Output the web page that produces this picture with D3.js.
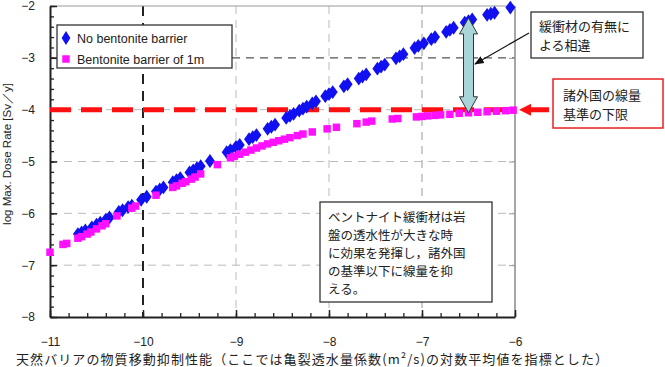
<!DOCTYPE html>
<html>
  <head>
    <meta charset="utf-8" />
    <title>Max dose rate vs natural barrier</title>
    <script src="https://cdn.jsdelivr.net/npm/d3@7"></script>
    <style>
      body { margin: 0; background: #fff; }
      text { font-family: "Liberation Sans", Arial, sans-serif; }
      .jp { font-family: "Noto Sans CJK JP", sans-serif; }
    </style>
  </head>
  <body>
    <svg id="svg" width="665" height="367" xmlns="http://www.w3.org/2000/svg"></svg>
    <script>
      // Data (log10 values)
      let blueX = [-10.70, -10.66, -10.62, -10.55, -10.50, -10.46, -10.40, -10.36, -10.26, -10.22,
        -10.16, -10.12, -10.02, -9.96, -9.86, -9.82, -9.78, -9.68, -9.64, -9.60,
        -9.50, -9.46, -9.42, -9.38, -9.28, -9.10, -9.06, -9.00, -8.96, -8.86,
        -8.82, -8.78, -8.66, -8.62, -8.58, -8.46, -8.42, -8.38, -8.32, -8.28,
        -8.24, -8.18, -8.14, -8.04, -8.00, -7.96, -7.84, -7.80, -7.68, -7.64,
        -7.60, -7.48, -7.44, -7.40, -7.28, -7.24, -7.20, -7.08, -7.04, -6.98,
        -6.90, -6.86, -6.74, -6.70, -6.66, -6.54, -6.50, -6.46, -6.30, -6.26,
        -6.22, -6.05];
      let blueY = [-6.40, -6.37, -6.33, -6.27, -6.22, -6.18, -6.12, -6.08, -5.97, -5.94,
        -5.88, -5.85, -5.74, -5.68, -5.58, -5.54, -5.50, -5.40, -5.36, -5.32,
        -5.21, -5.17, -5.13, -5.09, -4.99, -4.82, -4.78, -4.72, -4.68, -4.57,
        -4.53, -4.49, -4.37, -4.33, -4.29, -4.16, -4.12, -4.08, -4.02, -3.98,
        -3.94, -3.88, -3.84, -3.74, -3.70, -3.66, -3.55, -3.51, -3.40, -3.36,
        -3.32, -3.21, -3.17, -3.13, -3.01, -2.97, -2.93, -2.81, -2.77, -2.72,
        -2.64, -2.60, -2.50, -2.46, -2.42, -2.32, -2.29, -2.26, -2.17, -2.15,
        -2.13, -2.03];

      let pinkX = [-11.00, -10.86, -10.82, -10.70, -10.66, -10.60, -10.56, -10.50, -10.44, -10.40,
        -10.28, -10.12, -10.08, -9.86, -9.68, -9.64, -9.58, -9.54, -9.48, -9.44,
        -9.38, -9.20, -9.06, -9.02, -8.96, -8.90, -8.84, -8.78, -8.72, -8.66,
        -8.60, -8.54, -8.48, -8.42, -8.34, -8.28, -8.18, -8.02, -7.92, -7.70,
        -7.60, -7.54, -7.32, -7.26, -7.06, -7.00, -6.94, -6.86, -6.80, -6.70,
        -6.60, -6.50, -6.40, -6.30, -6.20, -6.10, -6.02];
      let pinkY = [-6.75, -6.60, -6.58, -6.48, -6.45, -6.40, -6.36, -6.30, -6.24, -6.20,
        -6.05, -5.90, -5.86, -5.65, -5.50, -5.47, -5.42, -5.39, -5.34, -5.30,
        -5.24, -5.06, -4.93, -4.90, -4.86, -4.82, -4.78, -4.74, -4.70, -4.66,
        -4.63, -4.60, -4.57, -4.54, -4.50, -4.47, -4.43, -4.37, -4.34, -4.27,
        -4.24, -4.22, -4.18, -4.17, -4.14, -4.13, -4.12, -4.11, -4.10, -4.09,
        -4.07, -4.06, -4.05, -4.04, -4.03, -4.02, -4.01];

      let seriesNames = ["No bentonite barrier", "Bentonite barrier of 1m"];
      let xTicks = [-11, -10, -9, -8, -7, -6];
      let yTicks = [-8, -7, -6, -5, -4, -3, -2];
      let limitLevel = -4;

      let xLabel = "天然バリアの物質移動抑制性能（ここでは亀裂透水量係数(m²/s)の対数平均値を指標とした）";
      let yLabel = "log  Max. Dose Rate [Sv／y]";
      let noteLines = ["ベントナイト緩衝材は岩", "盤の透水性が大きな時", "に効果を発揮し，諸外国", "の基準以下に線量を抑", "える。"];
      let diffLines = ["緩衝材の有無に", "よる相違"];
      let limitLines = ["諸外国の線量", "基準の下限"];

      let svg = d3.select("svg");
      svg.append("rect").attr("width", 665).attr("height", 367).attr("fill", "#fff");

      let x = d3.scaleLinear().domain([-11, -6]).range([50, 515]);
      let y = d3.scaleLinear().domain([-8, -2]).range([317, 6]);

      // Grid lines
      let grid = svg.append("g");
      grid.selectAll(".gx").data(xTicks.slice(1, -1)).enter().append("line")
        .attr("x1", d => x(d)).attr("x2", d => x(d))
        .attr("y1", y(-2)).attr("y2", y(-8))
        .attr("stroke", d => d === -10 ? "#222" : (d === -7 ? "#999" : "#bbb"))
        .attr("stroke-width", d => d === -10 ? 2 : 1)
        .attr("stroke-dasharray", d => d === -10 ? "10,7" : "8,6");
      grid.selectAll(".gy").data(yTicks.slice(1, -1)).enter().append("line")
        .attr("x1", x(-11)).attr("x2", x(-6))
        .attr("y1", d => y(d)).attr("y2", d => y(d))
        .attr("stroke", d => d === -3 ? "#555" : "#bbb")
        .attr("stroke-width", d => d === -3 ? 1.3 : 1)
        .attr("stroke-dasharray", "8,6");

      // Top and right frame (light)
      svg.append("line").attr("x1", x(-11)).attr("x2", x(-6)).attr("y1", y(-2)).attr("y2", y(-2))
        .attr("stroke", "#999");
      svg.append("line").attr("x1", x(-6)).attr("x2", x(-6)).attr("y1", y(-2)).attr("y2", y(-8))
        .attr("stroke", "#888").attr("stroke-width", 1.5);
      // right side inward ticks
      svg.append("g").attr("transform", "translate(" + x(-6) + ",0)")
        .call(d3.axisRight(y).tickValues(yTicks).tickSize(-6).tickFormat(""))
        .call(g => g.select(".domain").remove())
        .call(g => g.selectAll("line").attr("stroke", "#999"));

      // Minor ticks
      let minorX = d3.range(-11, -5.99, 0.2);
      let minorY = d3.range(-8, -1.99, 0.2);
      svg.append("g").attr("transform", "translate(0," + y(-8) + ")")
        .call(d3.axisBottom(x).tickValues(minorX).tickSize(-4).tickFormat(""))
        .call(g => g.select(".domain").remove())
        .call(g => g.selectAll("line").attr("stroke", "#222").attr("stroke-width", 1.3));
      svg.append("g").attr("transform", "translate(" + x(-11) + ",0)")
        .call(d3.axisLeft(y).tickValues(minorY).tickSize(-4).tickFormat(""))
        .call(g => g.select(".domain").remove())
        .call(g => g.selectAll("line").attr("stroke", "#222").attr("stroke-width", 1.3));

      // Main axes
      let xAxis = svg.append("g").attr("transform", "translate(0," + y(-8) + ")")
        .call(d3.axisBottom(x).tickValues(xTicks).tickSizeInner(-7).tickSizeOuter(0).tickPadding(20).tickFormat(d3.format("d")));
      xAxis.select(".domain").attr("stroke", "#222").attr("stroke-width", 2);
      xAxis.selectAll("line").attr("stroke", "#222").attr("stroke-width", 1.5);
      xAxis.selectAll("text").attr("font-size", 12).attr("fill", "#222")
        .style("font-family", "'Liberation Sans', Arial, sans-serif");

      let yAxis = svg.append("g").attr("transform", "translate(" + x(-11) + ",0)")
        .call(d3.axisLeft(y).tickValues(yTicks).tickSizeInner(-7).tickSizeOuter(0).tickPadding(15).tickFormat(d3.format("d")));
      yAxis.select(".domain").attr("stroke", "#222").attr("stroke-width", 2);
      yAxis.selectAll("line").attr("stroke", "#222").attr("stroke-width", 1.5);
      yAxis.selectAll("text").attr("font-size", 12).attr("fill", "#222")
        .style("font-family", "'Liberation Sans', Arial, sans-serif");

      // Red limit line
      svg.append("line")
        .attr("x1", x(-11)).attr("x2", x(-6.02))
        .attr("y1", y(limitLevel)).attr("y2", y(limitLevel))
        .attr("stroke", "#ff1010").attr("stroke-width", 5)
        .attr("stroke-dasharray", "21,10");

      // Data points
      let blue = blueX.map((v, i) => ({ x: v, y: blueY[i] }));
      let pink = pinkX.map((v, i) => ({ x: v, y: pinkY[i] }));
      let diamond = d3.symbol().type(d3.symbolDiamond).size(55);
      let square = d3.symbol().type(d3.symbolSquare).size(56);

      svg.append("g").selectAll("path").data(blue).enter().append("path")
        .attr("d", diamond)
        .attr("transform", d => "translate(" + x(d.x) + "," + y(d.y) + ") scale(1.25,1)")
        .attr("fill", "#1010f0");
      svg.append("g").selectAll("path").data(pink).enter().append("path")
        .attr("d", square)
        .attr("transform", d => "translate(" + x(d.x) + "," + y(d.y) + ")")
        .attr("fill", "#ff10ff");

      // Legend
      let legend = svg.append("g");
      legend.append("rect").attr("x", 57).attr("y", 25).attr("width", 175).attr("height", 43)
        .attr("fill", "#fff").attr("stroke", "#333").attr("stroke-width", 1.3);
      legend.append("path").attr("d", diamond).attr("transform", "translate(66,38) scale(1.1,1)").attr("fill", "#1010f0");
      legend.append("path").attr("d", square).attr("transform", "translate(66,59)").attr("fill", "#ff10ff");
      legend.selectAll("text").data(seriesNames).enter().append("text")
        .attr("x", 77).attr("y", (d, i) => 43 + i * 21)
        .attr("font-size", 12.5).attr("fill", "#222").text(d => d);

      // Double arrow between the two series
      let ax = x(-6.5);
      let topY = y(-2.23), botY = y(-4.06);
      svg.append("path")
        .attr("d", "M" + ax + "," + topY +
          "L" + (ax + 9) + "," + (topY + 16) + "L" + (ax + 5) + "," + (topY + 16) +
          "L" + (ax + 5) + "," + (botY - 16) + "L" + (ax + 9) + "," + (botY - 16) +
          "L" + ax + "," + botY +
          "L" + (ax - 9) + "," + (botY - 16) + "L" + (ax - 5) + "," + (botY - 16) +
          "L" + (ax - 5) + "," + (topY + 16) + "L" + (ax - 9) + "," + (topY + 16) + "Z")
        .attr("fill", "#a8d6d8").attr("stroke", "#333").attr("stroke-width", 1);

      // Callout: difference
      svg.append("defs").append("marker")
        .attr("id", "head").attr("viewBox", "0 0 10 10").attr("refX", 9).attr("refY", 5)
        .attr("markerWidth", 8).attr("markerHeight", 8).attr("orient", "auto")
        .append("path").attr("d", "M0,1L10,5L0,9Z").attr("fill", "#111");
      svg.append("line").attr("x1", 529).attr("y1", 33).attr("x2", 475).attr("y2", 64)
        .attr("stroke", "#111").attr("stroke-width", 1.2).attr("marker-end", "url(#head)");
      svg.append("rect").attr("x", 531).attr("y", 12).attr("width", 112).attr("height", 46)
        .attr("fill", "#fff").attr("stroke", "#333").attr("stroke-width", 1.3);
      svg.append("g").selectAll("text").data(diffLines).enter().append("text")
        .attr("class", "jp").attr("x", 539).attr("y", (d, i) => 31 + i * 19)
        .attr("font-size", 13).attr("fill", "#222").text(d => d);

      // Callout: limit
      let ry = y(limitLevel);
      svg.append("path")
        .attr("d", "M519," + ry + "L531," + (ry - 6) + "L531," + (ry - 2.5) + "L549," + (ry - 2.5) +
          "L549," + (ry + 2.5) + "L531," + (ry + 2.5) + "L531," + (ry + 6) + "Z")
        .attr("fill", "#ff1010");
      svg.append("rect").attr("x", 553).attr("y", 79).attr("width", 110).attr("height", 49)
        .attr("fill", "#fff").attr("stroke", "#e82020").attr("stroke-width", 1.5);
      svg.append("g").selectAll("text").data(limitLines).enter().append("text")
        .attr("class", "jp").attr("x", 563).attr("y", (d, i) => 100 + i * 19)
        .attr("font-size", 13).attr("fill", "#222").text(d => d);

      // Note box
      svg.append("rect").attr("x", 320).attr("y", 202).attr("width", 172).attr("height", 100)
        .attr("fill", "#fff").attr("stroke", "#333").attr("stroke-width", 1.3);
      svg.append("g").selectAll("text").data(noteLines).enter().append("text")
        .attr("class", "jp").attr("x", 328).attr("y", (d, i) => 222 + i * 18)
        .attr("font-size", 12.5).attr("fill", "#222").text(d => d);

      // Axis titles
      svg.append("text").attr("class", "jp").attr("x", 16).attr("y", 364)
        .attr("font-size", 13).attr("textLength", 592).attr("lengthAdjust", "spacing")
        .attr("fill", "#222").text(xLabel);
      svg.append("text")
        .attr("transform", "translate(11,154) rotate(-90)")
        .attr("text-anchor", "middle").attr("font-size", 11.5).attr("fill", "#222")
        .text(yLabel);
    </script>
  </body>
</html>
